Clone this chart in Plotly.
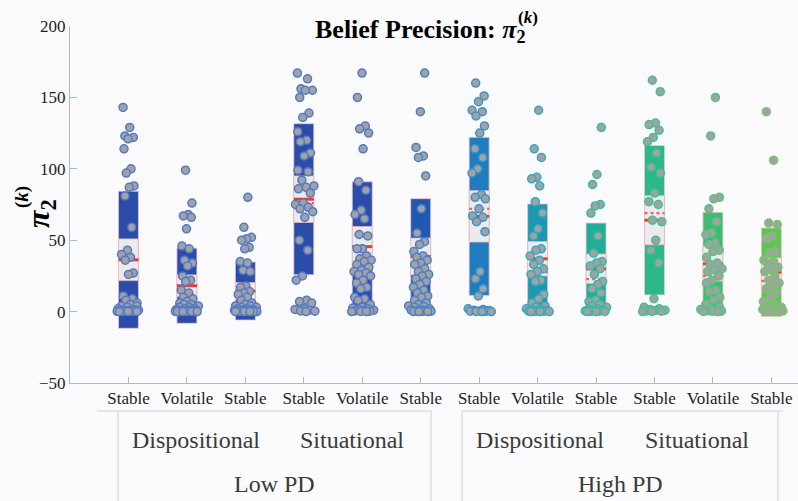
import plotly.graph_objects as go

# ---------------------------------------------------------------- data
conditions = ["Stable", "Volatile", "Stable"] * 4
attribution = ["Dispositional", "Situational", "Dispositional", "Situational"]
pd_level = ["Low PD", "High PD"]

# per-participant belief precision pi_2^(k)
low_disp_stable_a = [143, 129, 123, 122, 121, 114, 100, 97, 88, 87, 81, 59, 43, 40, 38, 36, 27, 26,
                     11, 9, 8, 6, 5, 4, 4, 3, 2, 1.5, 1, 1, 0.8, 0.5, 0.5, 0.3, 0.2, 0.1, 0, 0, 0, 0]
low_disp_volatile = [99, 76, 68, 67, 66, 58, 46, 44, 36, 34, 32, 25, 22, 21, 15, 13, 10, 9, 7, 6, 5, 5,
                     4, 3, 3, 2, 2, 1.5, 1.2, 1, 0.8, 0.6, 0.5, 0.4, 0.3, 0.2, 0.1, 0, 0, 0, 0, 0, 0, 0]
low_disp_stable_b = [80, 59, 52, 51, 50, 45, 44, 35, 34, 29, 28, 18, 17, 14, 13, 12, 10, 8, 6, 5, 4, 4,
                     3, 3, 2, 2, 1.5, 1.2, 1, 0.8, 0.6, 0.5, 0.4, 0.3, 0.2, 0.1, 0, 0, 0, 0, 0, 0, 0]
low_sit_stable_a = [167, 163, 156, 155, 155, 150, 139, 136, 126, 120, 119, 111, 109, 99, 98, 92, 88, 87,
                    86, 83, 76, 75, 73, 72, 70, 66, 50, 43, 25, 22, 8, 7, 6, 2, 1.5, 1, 0.5, 0.3, 0]
low_sit_volatile = [167, 150, 130, 128, 125, 114, 91, 85, 71, 68, 65, 54, 53, 44, 44, 39, 37, 36, 35, 33,
                    31, 29, 28, 27, 26, 25, 22, 20, 17, 16, 10, 9, 8, 5, 3, 2.5, 2, 1.5, 1, 0.8, 0.5,
                    0.3, 0.1, 0, 0]
low_sit_stable_b = [167, 140, 115, 109, 108, 95, 72, 55, 49, 47, 42, 39, 38, 36, 34, 33, 30, 28, 26, 25,
                    23, 21, 19, 17, 15, 13, 11, 10, 8, 6, 5, 4, 3.5, 3, 2, 1.5, 1, 0.8, 0.5, 0.3, 0.1,
                    0, 0, 0]
high_disp_stable_a = [160, 151, 147, 141, 140, 137, 130, 125, 114, 108, 100, 97, 82, 80, 79, 72, 67, 66,
                      63, 56, 28, 23, 16, 11, 2, 1.5, 1, 0.8, 0.5, 0.3, 0.2, 0.1, 0, 0]
high_disp_volatile = [141, 114, 108, 94, 93, 88, 77, 69, 58, 53, 44, 43, 39, 36, 33, 30, 28, 26, 22, 21,
                      12, 9, 6, 4, 3, 2, 1.5, 1, 0.8, 0.5, 0.3, 0.2, 0.1, 0, 0, 0]
high_disp_stable_b = [129, 96, 89, 75, 74, 69, 53, 41, 35, 34, 32, 30, 26, 21, 19, 16, 13, 8, 7, 5, 4, 3,
                      2, 1.5, 1, 0.8, 0.5, 0.3, 0.2, 0.1, 0, 0]
high_sit_stable_a = [162, 154, 132, 131, 127, 122, 119, 111, 101, 97, 83, 77, 75, 64, 63, 50, 43, 34, 9,
                     3, 2, 1.5, 1, 0.8, 0.5, 0.3, 0.1, 0]
high_sit_volatile = [150, 123, 80, 79, 72, 63, 55, 54, 48, 47, 43, 42, 38, 34, 33, 30, 29, 28, 25, 22, 20,
                     15, 14, 10, 8, 5, 3, 2, 1.5, 1, 0.8, 0.5, 0.3, 0.1, 0]
high_sit_stable_b = [140, 106, 62, 61, 53, 51, 42, 41, 36, 35, 34, 31, 30, 28, 25, 22, 20, 18, 16, 13, 10,
                     7, 5, 4, 3, 2, 1.5, 1, 0.8, 0.5, 0.3, 0.1, 0, 0]

# group summaries: mean, standard deviation, 95% CI half-width, median
group_mean = [36.3, 18.1, 14.4, 78.7, 45.5, 38.6, 66.7, 37.0, 30.0, 64.0, 33.5, 27.6]
group_sd = [48.0, 26.3, 20.3, 52.9, 45.4, 40.5, 55.4, 38.4, 32.0, 52.3, 36.0, 31.0]
group_ci = [14.6, 7.6, 5.9, 16.3, 14.1, 12.9, 18.0, 12.1, 10.3, 17.2, 12.1, 10.0]
group_median = [None, None, None, 76.0, None, None, 71.9, 27.4, 22.7, 69.0, 25.0, 21.5]

samples = [low_disp_stable_a, low_disp_volatile, low_disp_stable_b,
           low_sit_stable_a, low_sit_volatile, low_sit_stable_b,
           high_disp_stable_a, high_disp_volatile, high_disp_stable_b,
           high_sit_stable_a, high_sit_volatile, high_sit_stable_b]

# ---------------------------------------------------------------- style
W, H = 798, 501
ML, MR, MT, MB = 70, 0, 26, 118
PW, PH = W - ML - MR, H - MT - MB
GAP = 58.45                     # pixels between neighbouring groups
BAR_W = 0.342
JIT = 0.21
SERIF = "Liberation Serif"

bar_colors = ["#2b4ca8", "#2b4ca8", "#2b4ca8", "#2b4ca8", "#2b4ca8", "#2158b0",
              "#1f7dbf", "#1e97b0", "#22ad98", "#2db88a", "#40bc72", "#62c258"]
edge_colors = ["#5079cc", "#5079cc", "#5079cc", "#5079cc", "#5079cc", "#4580ca",
               "#3a93cc", "#35a9bd", "#37b9a4", "#40c093", "#55c47f", "#74c866"]


def px_x(px):
    return (px - ML) / PW


def px_y(py):
    return (H - MB - py) / PH


def spread(vals, g):
    """Sideways offsets that widen where the points are dense."""
    dens = [sum(1 for w in vals if abs(w - v) <= 4) for v in vals]
    top = max(dens)
    out = []
    for k, d in enumerate(dens):
        u = (k * 0.6180339887 + 0.37 * g) % 1.0 - 0.5
        width = JIT * (0.28 + 0.72 * (d / top) ** 0.5)
        out.append(2 * u * width)
    return out


xs = list(range(1, len(samples) + 1))
fig = go.Figure()

# mean +/- 1 SD
fig.add_trace(go.Bar(
    x=xs, base=[m - s for m, s in zip(group_mean, group_sd)],
    y=[2 * s for s in group_sd], width=BAR_W,
    marker=dict(color=bar_colors, line=dict(color="#f2c4c8", width=0.8)),
    hoverinfo="skip", showlegend=False))

# 95% confidence interval
fig.add_trace(go.Bar(
    x=xs, base=[m - c for m, c in zip(group_mean, group_ci)],
    y=[2 * c for c in group_ci], width=BAR_W,
    marker=dict(color="#ebebef", line=dict(color="#f3b4b4", width=0.8)),
    hoverinfo="skip", showlegend=False))

# mean and median lines
mx, my, dx, dy = [], [], [], []
for x, m, md in zip(xs, group_mean, group_median):
    mx += [x - BAR_W / 2, x + BAR_W / 2, None]
    my += [m, m, None]
    if md is not None:
        dx += [x - BAR_W / 2, x + BAR_W / 2, None]
        dy += [md, md, None]
fig.add_trace(go.Scatter(x=dx, y=dy, mode="lines",
                         line=dict(color="#f26258", width=2.2, dash="dot"),
                         hoverinfo="skip", showlegend=False))
fig.add_trace(go.Scatter(x=mx, y=my, mode="lines",
                         line=dict(color="#f03a26", width=3),
                         hoverinfo="skip", showlegend=False))

# individual participants
for g, (x, vals) in enumerate(zip(xs, samples)):
    offs = spread(vals, g)
    fig.add_trace(go.Scatter(
        x=[x + o for o in offs], y=vals, mode="markers",
        marker=dict(size=8, color="#a2a2a4", line=dict(color=edge_colors[g], width=1.5)),
        showlegend=False, hovertemplate="%{y}<extra></extra>"))

axis_col = "#a9bcc2"
fig.update_layout(
    width=W, height=H,
    margin=dict(l=ML, r=MR, t=MT, b=MB, pad=0),
    paper_bgcolor="#fbfbfd", plot_bgcolor="#fbfbfd",
    barmode="overlay",
    font=dict(family=SERIF, color="#222"),
    xaxis=dict(range=[0, PW / GAP], tickvals=xs, ticktext=conditions,
               showline=True, linecolor=axis_col, linewidth=1,
               ticks="inside", ticklen=6, tickcolor=axis_col,
               tickfont=dict(family=SERIF, size=17, color="#222"),
               showgrid=False, zeroline=False),
    yaxis=dict(range=[-50, 200], tickvals=[-50, 0, 50, 100, 150, 200],
               showline=True, linecolor=axis_col, linewidth=1,
               ticks="inside", ticklen=7, tickcolor=axis_col,
               tickfont=dict(family=SERIF, size=17, color="#222"),
               showgrid=False, zeroline=False),
)

ann = []


def add_text(text, px, py, size, **kw):
    ann.append(dict(text=text, x=px_x(px), y=px_y(py), xref="paper", yref="paper",
                    showarrow=False, font=dict(family=SERIF, size=size, color=kw.pop("color", "#111")),
                    **kw))


# title: Belief Precision: pi_2^(k)
add_text("<b>Belief Precision: <i>π</i><sub>2</sub></b>", 528, 31, 26,
         xanchor="right", yanchor="middle", color="#000")
add_text("<b>(<i>k</i>)</b>", 528, 17, 17, xanchor="center", yanchor="middle", color="#000")

# y-axis label
add_text("<b><i>π</i><sub>2</sub></b>", 40, 214, 32, xanchor="center", yanchor="middle",
         textangle=-90, color="#000")
add_text("<b>(<i>k</i>)</b>", 22, 197, 19, xanchor="center", yanchor="middle",
         textangle=-90, color="#000")

# grouping labels below the axis
for name, px in zip(attribution, [196, 352, 540, 697]):
    add_text(name, px, 440, 24, xanchor="center", yanchor="middle", color="#3a3a3a")
for name, px in zip(pd_level, [274, 620]):
    add_text(name, px, 484, 24, xanchor="center", yanchor="middle", color="#3a3a3a")
fig.update_layout(annotations=ann)

# brackets around the grouping labels
br_col = "#c9d3d7"
segments = [((97, 411), (431, 411)), ((118, 411), (118, 501)), ((431, 411), (431, 501)),
            ((462, 411), (783, 411)), ((462, 411), (462, 501)), ((778, 411), (778, 501))]
for (x0, y0), (x1, y1) in segments:
    fig.add_shape(type="line", xref="paper", yref="paper",
                  x0=px_x(x0), y0=px_y(y0), x1=px_x(x1), y1=px_y(y1),
                  line=dict(color=br_col, width=1))

fig.write_html("out.html")
